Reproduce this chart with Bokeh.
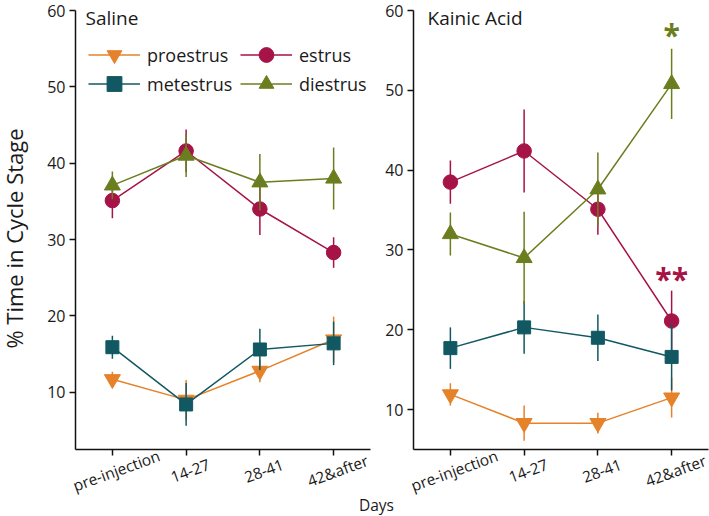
import math
from bokeh.plotting import figure
from bokeh.models import (ColumnDataSource, FixedTicker, Legend, LegendItem,
                          Label, Range1d, LinearAxis)
from bokeh.embed import file_html
from bokeh.resources import INLINE
from bokeh.core.properties import value

# ---------------- data ----------------
days = ["pre-injection", "14-27", "28-41", "42&after"]
stages = ["proestrus", "estrus", "metestrus", "diestrus"]
y_ticks = [10, 20, 30, 40, 50, 60]
saline_ylim = (2.5, 60)
ka_ylim = (5, 60)

saline_proestrus = [11.7, 9.0, 12.8, 16.9]
saline_proestrus_sem = [1.0, 2.6, 1.5, 3.0]
saline_estrus = [35.1, 41.6, 34.0, 28.3]
saline_estrus_sem = [2.3, 2.8, 3.4, 2.0]
saline_metestrus = [15.9, 8.4, 15.6, 16.4]
saline_metestrus_sem = [1.5, 2.8, 2.7, 2.85]
saline_diestrus = [37.1, 41.0, 37.5, 38.0]
saline_diestrus_sem = [1.8, 2.8, 3.7, 4.05]

ka_proestrus = [11.9, 8.3, 8.3, 11.5]
ka_proestrus_sem = [1.4, 2.2, 1.3, 2.5]
ka_estrus = [38.5, 42.4, 35.1, 21.1]
ka_estrus_sem = [2.7, 5.2, 3.2, 3.8]
ka_metestrus = [17.7, 20.3, 19.0, 16.6]
ka_metestrus_sem = [2.6, 3.3, 2.9, 4.2]
ka_diestrus = [32.0, 29.0, 37.6, 50.8]
ka_diestrus_sem = [2.7, 5.8, 4.6, 4.4]

sig_day = ["42&after", "42&after"]
sig_y = [57.0, 26.4]
sig_text = ["*", "**"]
sig_stage = ["diestrus", "estrus"]

colors = {"proestrus": "#E5822A", "estrus": "#A61347",
          "metestrus": "#115862", "diestrus": "#6B7E1F"}
markers = {"proestrus": "inverted_triangle", "estrus": "circle",
           "metestrus": "square", "diestrus": "triangle"}
msizes = {"proestrus": 16, "estrus": 14.5, "metestrus": 13, "diestrus": 16}

FONT = "Open Sans"
TXT = "#1a1a1a"

# ---------------- layout geometry (pixels) ----------------
W, H = 709, 516
AX_L, AX_R = 75, 413      # x pixel of each panel's y axis
Y_TOP, Y_BOT = 10, 449    # pixel rows of y=60 and of the x axis
UNIT = 295 / 4.0          # pixels per day category

day_pos = list(range(len(days)))


def xr_for(axis_px):
    return Range1d(-0.5 - axis_px / UNIT, -0.5 + (W - axis_px) / UNIT)


def yr_for(lim):
    s = (Y_BOT - Y_TOP) / (lim[1] - lim[0])
    return Range1d(lim[0] - (H - Y_BOT) / s, lim[1] + Y_TOP / s)


p = figure(width=W, height=H, x_range=xr_for(AX_L), y_range=yr_for(saline_ylim),
           min_border=0, output_backend="svg", toolbar_location=None,
           x_axis_type=None, y_axis_type=None)
p.extra_x_ranges = {"ka": xr_for(AX_R)}
p.extra_y_ranges = {"ka": yr_for(ka_ylim)}
p.outline_line_color = None
p.grid.grid_line_color = None


def style_axis(ax):
    ax.axis_line_width = 1.5
    ax.axis_line_color = "#111111"
    ax.major_tick_line_width = 1.5
    ax.major_tick_line_color = "#111111"
    ax.major_tick_in = 0
    ax.major_tick_out = 6
    ax.minor_tick_line_color = None
    ax.major_label_text_font = FONT
    ax.major_label_text_font_size = "16px"
    ax.major_label_text_color = TXT


def add_axes(xname, yname, ylim):
    kw = {} if xname is None else dict(x_range_name=xname, y_range_name=yname)
    ya = LinearAxis(ticker=FixedTicker(ticks=y_ticks), major_label_standoff=4,
                    fixed_location=-0.5, bounds=ylim, **kw)
    style_axis(ya)
    p.add_layout(ya, "left")
    xa = LinearAxis(ticker=FixedTicker(ticks=day_pos), bounds=(-0.5, 3.5),
                    fixed_location=ylim[0], **kw)
    style_axis(xa)
    xa.major_label_text_color = None
    p.add_layout(xa, "below")
    # day tick labels, centred under the ticks and tilted
    p.text(x=day_pos, y=[ylim[0]] * len(days), text=days, angle=0.35,
           x_offset=4, y_offset=21, text_align="center", text_baseline="middle",
           text_font=value(FONT), text_font_size="15.5px", text_color=TXT, **kw)


add_axes(None, None, saline_ylim)
add_axes("ka", "ka", ka_ylim)


def draw_panel(series, name):
    items = {}
    kw = {} if name is None else dict(x_range_name=name, y_range_name=name)
    for st in stages:
        mean, sem = series[st]
        lo = [m - s for m, s in zip(mean, sem)]
        hi = [m + s for m, s in zip(mean, sem)]
        src = ColumnDataSource(dict(x=day_pos, y=mean, lo=lo, hi=hi))
        c = colors[st]
        p.segment(x0="x", y0="lo", x1="x", y1="hi", source=src,
                  line_color=c, line_width=1.5, **kw)
        ln = p.line(x="x", y="y", source=src, line_color=c, line_width=1.5, **kw)
        sc = p.scatter(x="x", y="y", source=src, marker=markers[st],
                       size=msizes[st], fill_color=c, line_color=c, **kw)
        items[st] = [ln, sc]
    return items


items1 = draw_panel({
    "proestrus": (saline_proestrus, saline_proestrus_sem),
    "estrus": (saline_estrus, saline_estrus_sem),
    "metestrus": (saline_metestrus, saline_metestrus_sem),
    "diestrus": (saline_diestrus, saline_diestrus_sem)}, None)

draw_panel({
    "proestrus": (ka_proestrus, ka_proestrus_sem),
    "estrus": (ka_estrus, ka_estrus_sem),
    "metestrus": (ka_metestrus, ka_metestrus_sem),
    "diestrus": (ka_diestrus, ka_diestrus_sem)}, "ka")

sig_src = ColumnDataSource(dict(x=[days.index(d) for d in sig_day], y=sig_y,
                                t=sig_text, c=[colors[s] for s in sig_stage]))
p.text(x="x", y="y", text="t", source=sig_src, text_color="c",
       text_font=value(FONT), text_font_size="30px", text_font_style="bold",
       text_align="center", text_baseline="middle",
       x_range_name="ka", y_range_name="ka")

# titles & labels (screen units, frame == whole canvas)
for txt, sx in (("Saline", 85), ("Kainic Acid", 427)):
    p.add_layout(Label(x=sx, y=H - 17, x_units="screen", y_units="screen",
                       text=txt, text_font=FONT, text_font_size="19px",
                       text_color=TXT, text_baseline="middle"))

p.add_layout(Label(x=13, y=H - 238, x_units="screen", y_units="screen",
                   text="% Time in Cycle Stage", angle=math.pi / 2,
                   text_font=FONT, text_font_size="22px", text_color=TXT,
                   text_align="center", text_baseline="middle"))
p.add_layout(Label(x=376, y=H - 504, x_units="screen", y_units="screen",
                   text="Days", text_font=FONT, text_font_size="15.5px",
                   text_color=TXT, text_align="center", text_baseline="middle"))

for row_items, top in ((["proestrus", "estrus"], 36), (["metestrus", "diestrus"], 65)):
    lg = Legend(items=[LegendItem(label=st, renderers=items1[st]) for st in row_items],
                orientation="horizontal", location=(88, H - top - 37),
                border_line_color=None, background_fill_alpha=0,
                padding=0, margin=0, spacing=0,
                glyph_width=52, glyph_height=37, label_height=20,
                label_width=93, label_standoff=7, label_text_font=FONT,
                label_text_font_size="18px", label_text_color=TXT)
    p.add_layout(lg)

open("out.html", "w").write(file_html(p, INLINE))
